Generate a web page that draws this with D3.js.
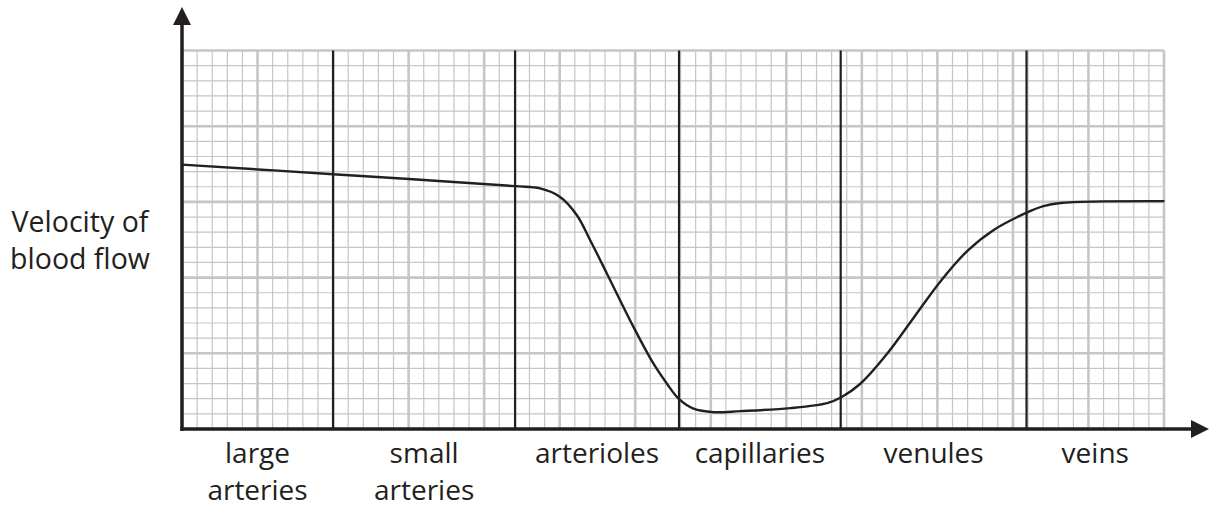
<!DOCTYPE html>
<html>
<head>
<meta charset="utf-8">
<script src="https://cdn.jsdelivr.net/npm/d3@7"></script>
<style>
  body { margin: 0; background: #fff; }
  text { font-family: "Open Sans", sans-serif; fill: #231f20; }
</style>
</head>
<body>
<div id="chart"></div>
<script>
// grid units: one small square = 1
const vesselNames = [["large", "arteries"], ["small", "arteries"], ["arterioles"], ["capillaries"], ["venules"], ["veins"]];
const vesselEdges = [0, 10, 22.05, 32.9, 43.6, 55.9, 65];

// velocity curve (x, y in grid squares)
const flowX = [0, 10, 22.05, 23.7, 25.03, 26.14, 27.02, 28.13, 29.89, 31.21, 32.1, 32.87, 33.86, 35.19, 36.95, 40.26, 42.7, 43.64, 44.9, 46.67, 48.43, 50.2, 51.97, 53.73, 55.87, 57.02, 58.15, 65.03];
const flowY = [17.46, 16.83, 16.04, 15.89, 15.33, 14.12, 12.47, 10.26, 6.73, 4.31, 2.99, 2.0, 1.34, 1.11, 1.18, 1.38, 1.71, 2.10, 2.99, 4.97, 7.35, 9.75, 11.75, 13.15, 14.27, 14.72, 14.93, 15.05];

const yLabel = ["Velocity of", "blood flow"];

const width = 1210;
const height = 508;

const svg = d3.select("#chart")
    .append("svg")
    .attr("width", width)
    .attr("height", height);

const x = d3.scaleLinear().domain([0, 65]).range([182, 1164]);
const y = d3.scaleLinear().domain([0, 25]).range([429, 50.5]);

// graph paper
const g = svg.append("g");
g.selectAll(".vminor")
    .data(d3.range(0, 66))
    .enter()
    .append("line")
    .attr("x1", d => x(d))
    .attr("x2", d => x(d))
    .attr("y1", y(0))
    .attr("y2", y(25))
    .attr("stroke", "#c6c6c6")
    .attr("stroke-width", d => d % 5 === 0 ? 2.6 : 1.2);

g.selectAll(".hminor")
    .data(d3.range(0, 26))
    .enter()
    .append("line")
    .attr("x1", x(0))
    .attr("x2", x(65))
    .attr("y1", d => y(d))
    .attr("y2", d => y(d))
    .attr("stroke", "#c6c6c6")
    .attr("stroke-width", d => d % 5 === 0 ? 2.6 : 1.2);

// vessel dividers
svg.selectAll(".divider")
    .data(vesselEdges.slice(1, -1))
    .enter()
    .append("line")
    .attr("x1", d => x(d))
    .attr("x2", d => x(d))
    .attr("y1", y(0))
    .attr("y2", y(25))
    .attr("stroke", "#231f20")
    .attr("stroke-width", 2.2);

// curve
const line = d3.line()
    .x((d, i) => x(flowX[i]))
    .y(d => y(d))
    .curve(d3.curveCatmullRom.alpha(0.5));

svg.append("path")
    .datum(flowY)
    .attr("d", line)
    .attr("fill", "none")
    .attr("stroke", "#231f20")
    .attr("stroke-width", 2.4);

// axes with arrows
svg.append("line")
    .attr("x1", x(0)).attr("x2", x(0))
    .attr("y1", y(0) + 2).attr("y2", 24)
    .attr("stroke", "#231f20").attr("stroke-width", 3.5);
svg.append("path")
    .attr("d", `M${x(0)},7 L${x(0) - 9},25 L${x(0) + 9},25 Z`)
    .attr("fill", "#231f20");

svg.append("line")
    .attr("x1", x(0) - 1.7).attr("x2", 1192)
    .attr("y1", y(0)).attr("y2", y(0))
    .attr("stroke", "#231f20").attr("stroke-width", 3.5);
svg.append("path")
    .attr("d", `M1209,${y(0)} L1191,${y(0) - 9} L1191,${y(0) + 9} Z`)
    .attr("fill", "#231f20");

// labels
const labels = svg.selectAll(".vessel")
    .data(vesselNames)
    .enter()
    .append("text")
    .attr("text-anchor", "middle")
    .attr("font-size", 28)
    .attr("x", (d, i) => (x(vesselEdges[i]) + x(vesselEdges[i + 1])) / 2)
    .attr("y", 463);

labels.selectAll("tspan")
    .data(d => d)
    .enter()
    .append("tspan")
    .attr("x", function() { return this.parentNode.getAttribute("x"); })
    .attr("dy", (d, i) => i === 0 ? 0 : 37)
    .text(d => d);

svg.append("text")
    .attr("text-anchor", "middle")
    .attr("font-size", 28.5)
    .selectAll("tspan")
    .data(yLabel)
    .enter()
    .append("tspan")
    .attr("x", 80)
    .attr("y", (d, i) => 231.5 + i * 37.7)
    .text(d => d);
</script>
</body>
</html>
